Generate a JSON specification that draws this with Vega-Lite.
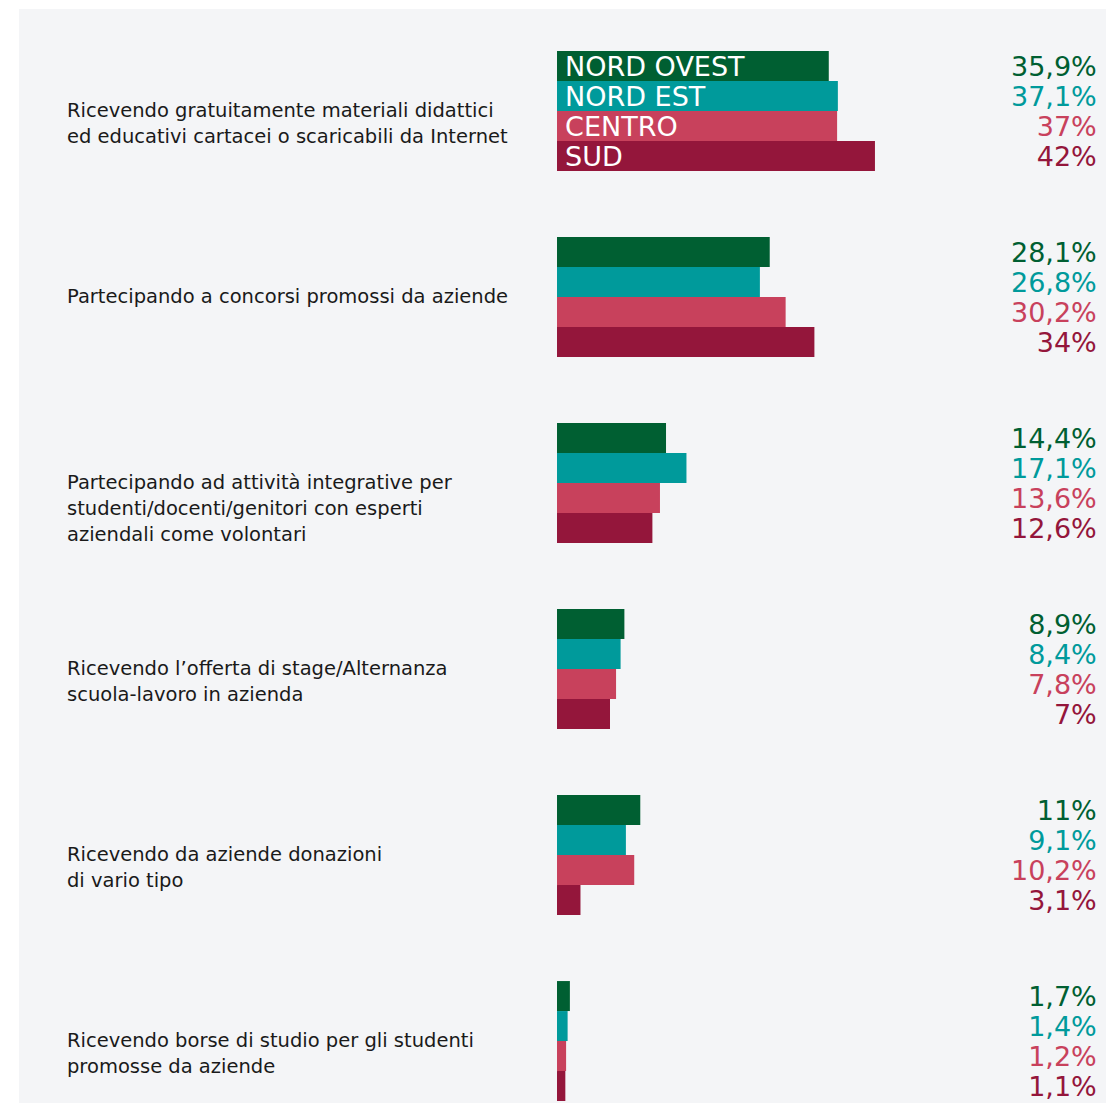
{
  "$schema": "https://vega.github.io/schema/vega-lite/v6.json",
  "width": 1087,
  "height": 1094,
  "autosize": {"type": "none"},
  "padding": {"left": 19, "top": 9, "right": 0, "bottom": 0},
  "background": "#ffffff",
  "config": {"view": {"fill": "#f4f5f7", "stroke": null}, "font": "DejaVu Sans"},
  "data": {"values": [
    {"cat": "Ricevendo gratuitamente materiali didattici|ed educativi cartacei o scaricabili da Internet", "region": "NORD OVEST", "value": 35.9},
    {"cat": "Ricevendo gratuitamente materiali didattici|ed educativi cartacei o scaricabili da Internet", "region": "NORD EST", "value": 37.1},
    {"cat": "Ricevendo gratuitamente materiali didattici|ed educativi cartacei o scaricabili da Internet", "region": "CENTRO", "value": 37},
    {"cat": "Ricevendo gratuitamente materiali didattici|ed educativi cartacei o scaricabili da Internet", "region": "SUD", "value": 42},
    {"cat": "Partecipando a concorsi promossi da aziende", "region": "NORD OVEST", "value": 28.1},
    {"cat": "Partecipando a concorsi promossi da aziende", "region": "NORD EST", "value": 26.8},
    {"cat": "Partecipando a concorsi promossi da aziende", "region": "CENTRO", "value": 30.2},
    {"cat": "Partecipando a concorsi promossi da aziende", "region": "SUD", "value": 34},
    {"cat": "Partecipando ad attività integrative per|studenti/docenti/genitori con esperti|aziendali come volontari", "region": "NORD OVEST", "value": 14.4},
    {"cat": "Partecipando ad attività integrative per|studenti/docenti/genitori con esperti|aziendali come volontari", "region": "NORD EST", "value": 17.1},
    {"cat": "Partecipando ad attività integrative per|studenti/docenti/genitori con esperti|aziendali come volontari", "region": "CENTRO", "value": 13.6},
    {"cat": "Partecipando ad attività integrative per|studenti/docenti/genitori con esperti|aziendali come volontari", "region": "SUD", "value": 12.6},
    {"cat": "Ricevendo l’offerta di stage/Alternanza|scuola-lavoro in azienda", "region": "NORD OVEST", "value": 8.9},
    {"cat": "Ricevendo l’offerta di stage/Alternanza|scuola-lavoro in azienda", "region": "NORD EST", "value": 8.4},
    {"cat": "Ricevendo l’offerta di stage/Alternanza|scuola-lavoro in azienda", "region": "CENTRO", "value": 7.8},
    {"cat": "Ricevendo l’offerta di stage/Alternanza|scuola-lavoro in azienda", "region": "SUD", "value": 7},
    {"cat": "Ricevendo da aziende donazioni|di vario tipo", "region": "NORD OVEST", "value": 11},
    {"cat": "Ricevendo da aziende donazioni|di vario tipo", "region": "NORD EST", "value": 9.1},
    {"cat": "Ricevendo da aziende donazioni|di vario tipo", "region": "CENTRO", "value": 10.2},
    {"cat": "Ricevendo da aziende donazioni|di vario tipo", "region": "SUD", "value": 3.1},
    {"cat": "Ricevendo borse di studio per gli studenti|promosse da aziende", "region": "NORD OVEST", "value": 1.7},
    {"cat": "Ricevendo borse di studio per gli studenti|promosse da aziende", "region": "NORD EST", "value": 1.4},
    {"cat": "Ricevendo borse di studio per gli studenti|promosse da aziende", "region": "CENTRO", "value": 1.2},
    {"cat": "Ricevendo borse di studio per gli studenti|promosse da aziende", "region": "SUD", "value": 1.1}
  ]},
  "encoding": {
    "y": {"field": "cat", "type": "nominal", "sort": null, "axis": null,
          "scale": {"paddingInner": 0.355, "paddingOuter": 0.1183, "align": 0.955}}
  },
  "layer": [
    {
      "mark": {"type": "bar"},
      "encoding": {
        "x": {"field": "value", "type": "quantitative", "axis": null,
              "scale": {"domain": [-71.07, 72.52], "nice": false}},
        "yOffset": {"field": "region", "type": "nominal", "sort": ["NORD OVEST", "NORD EST", "CENTRO", "SUD"],
                    "scale": {"paddingInner": 0, "paddingOuter": 0}},
        "color": {"field": "region", "type": "nominal", "legend": null,
                  "scale": {"domain": ["NORD OVEST", "NORD EST", "CENTRO", "SUD"],
                            "range": ["#005f32", "#009a9b", "#c8415c", "#94163b"]}}
      }
    },
    {
      "mark": {"type": "text", "align": "right", "baseline": "middle", "fontSize": 27, "dy": 2,
               "text": {"expr": "replace(format(datum.value, '.1~f'), '.', ',') + '%'"}},
      "encoding": {
        "x": {"datum": 71.3, "type": "quantitative"},
        "yOffset": {"field": "region", "type": "nominal", "sort": ["NORD OVEST", "NORD EST", "CENTRO", "SUD"]},
        "color": {"field": "region", "type": "nominal", "legend": null}
      }
    },
    {
      "transform": [{"filter": "indexof(datum.cat, 'Ricevendo gratuitamente') == 0"}],
      "mark": {"type": "text", "align": "left", "baseline": "middle", "fontSize": 27, "dy": 2, "color": "#ffffff"},
      "encoding": {
        "x": {"datum": 1.06, "type": "quantitative"},
        "yOffset": {"field": "region", "type": "nominal", "sort": ["NORD OVEST", "NORD EST", "CENTRO", "SUD"]},
        "text": {"field": "region"}
      }
    },
    {
      "transform": [{"filter": "datum.region == 'NORD OVEST'"}],
      "mark": {"type": "text", "align": "left", "baseline": "middle", "fontSize": 19.5, "lineHeight": 26,
               "lineBreak": "|", "color": "#1a1a1a"},
      "encoding": {
        "x": {"datum": -64.73, "type": "quantitative"},
        "text": {"field": "cat"}
      }
    }
  ]
}
